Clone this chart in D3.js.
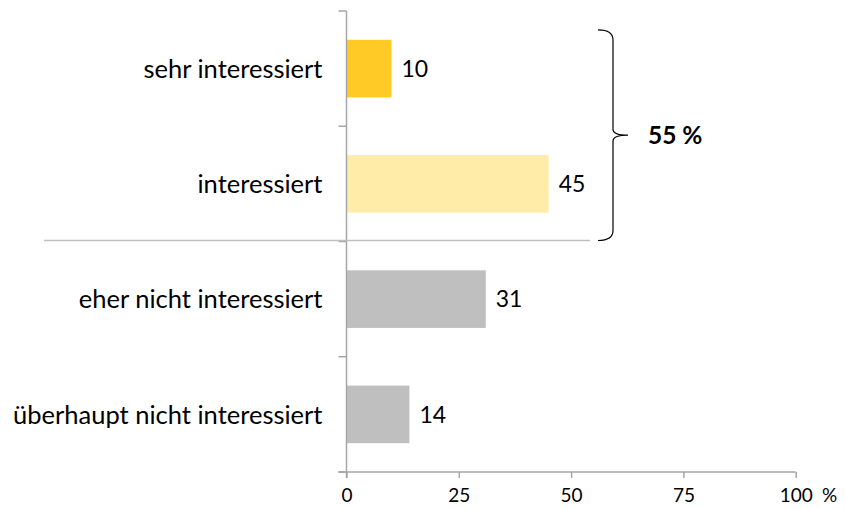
<!DOCTYPE html>
<html>
<head>
<meta charset="utf-8">
<script src="https://cdn.jsdelivr.net/npm/d3@7"></script>
<style>
  body { margin: 0; background: #fff; }
  svg { font-family: Lato, "Open Sans", sans-serif; }
</style>
</head>
<body>
<svg width="845" height="509"></svg>
<script>
// data
var categories = ["sehr interessiert", "interessiert", "eher nicht interessiert", "überhaupt nicht interessiert"];
var values = [10, 45, 31, 14];
var barColors = ["#FFC926", "#FFECA8", "#BFBFBF", "#BFBFBF"];
var xTicks = [0, 25, 50, 75, 100];
var braceLabel = "55 %";

var svg = d3.select("svg"),
    width = +svg.attr("width"),
    height = +svg.attr("height");

var x = d3.scaleLinear()
    .domain([0, 100])
    .range([346.5, 795.7]);

var y = d3.scaleBand()
    .domain(categories)
    .range([11, 472])
    .paddingInner(0.5)
    .paddingOuter(0.25);

var axisColor = "#A6A6A6";

// bars
svg.selectAll("rect.bar")
  .data(values)
  .enter().append("rect")
    .attr("class", "bar")
    .attr("x", x(0))
    .attr("y", function(d, i) { return y(categories[i]); })
    .attr("width", function(d) { return x(d) - x(0); })
    .attr("height", y.bandwidth())
    .attr("fill", function(d, i) { return barColors[i]; });

// value labels
svg.selectAll("text.val")
  .data(values)
  .enter().append("text")
    .attr("class", "val")
    .attr("x", function(d) { return x(d) + 10; })
    .attr("y", function(d, i) { return y(categories[i]) + y.bandwidth() / 2; })
    .attr("dy", "0.36em")
    .attr("font-size", 23)
    .text(function(d) { return d; });

// y axis (line + ticks at band boundaries)
var bounds = categories.map(function(c) { return y(c) - y.step() * 0.25; });
bounds.push(y.range()[1]);

svg.append("line")
    .attr("x1", x(0)).attr("x2", x(0))
    .attr("y1", y.range()[0]).attr("y2", y.range()[1] + 6)
    .attr("stroke", axisColor).attr("stroke-width", 1.5);

svg.selectAll("line.ytick")
  .data(bounds)
  .enter().append("line")
    .attr("class", "ytick")
    .attr("x1", x(0) - 8).attr("x2", x(0))
    .attr("y1", function(d) { return d; })
    .attr("y2", function(d) { return d; })
    .attr("stroke", axisColor).attr("stroke-width", 1.5);

// category labels
svg.selectAll("text.cat")
  .data(categories)
  .enter().append("text")
    .attr("class", "cat")
    .attr("x", x(0) - 24)
    .attr("y", function(d) { return y(d) + y.bandwidth() / 2; })
    .attr("dy", "0.36em")
    .attr("text-anchor", "end")
    .attr("font-size", 25.5)
    .text(function(d) { return d; });

// x axis
var xAxis = svg.append("g")
    .attr("transform", "translate(0," + y.range()[1] + ")")
    .call(d3.axisBottom(x).tickValues(xTicks).tickSize(6).tickSizeOuter(0));
xAxis.select(".domain").remove();
xAxis.insert("line", ":first-child")
    .attr("x1", x(0) - 8).attr("x2", x(100))
    .attr("stroke", axisColor).attr("stroke-width", 1.5);
xAxis.selectAll(".tick line").attr("stroke", axisColor).attr("stroke-width", 1.5);
xAxis.selectAll(".tick text")
    .attr("y", 17)
    .attr("font-size", 19)
    .attr("font-family", "Lato, sans-serif")
    .attr("fill", "#000");

svg.append("text")
    .attr("x", 822)
    .attr("y", y.range()[1] + 17)
    .attr("dy", "0.71em")
    .attr("font-size", 19)
    .text("%");

// separator between positive and negative answers
svg.append("line")
    .attr("x1", 44).attr("x2", 590)
    .attr("y1", bounds[2] - 1).attr("y2", bounds[2] - 1)
    .attr("stroke", "#BFBFBF").attr("stroke-width", 1.5);

// curly brace over the first two categories
var bTop = y(categories[0]) - 10,
    bBot = bounds[2] - 1,
    bMid = (bTop + bBot) / 2,
    bx = 598, bw = 15, tip = 628;
var brace = d3.path();
brace.moveTo(bx, bTop);
brace.quadraticCurveTo(bx + bw, bTop, bx + bw, bTop + 10);
brace.lineTo(bx + bw, bMid - 6);
brace.quadraticCurveTo(bx + bw, bMid, tip, bMid);
brace.quadraticCurveTo(bx + bw, bMid, bx + bw, bMid + 6);
brace.lineTo(bx + bw, bBot - 10);
brace.quadraticCurveTo(bx + bw, bBot, bx, bBot);
svg.append("path")
    .attr("d", brace.toString())
    .attr("fill", "none")
    .attr("stroke", "#000")
    .attr("stroke-width", 1.2);

svg.append("text")
    .attr("x", 648)
    .attr("y", bMid)
    .attr("dy", "0.36em")
    .attr("font-size", 24.5)
    .attr("font-weight", "bold")
    .text(braceLabel);
</script>
</body>
</html>
